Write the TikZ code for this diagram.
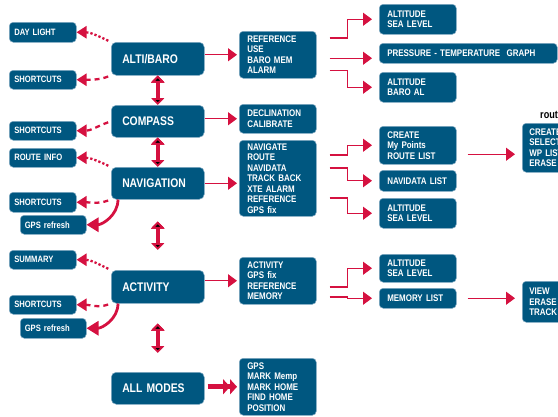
\documentclass[tikz,border=0pt]{standalone}
\usepackage{fontspec}
\setmainfont{Liberation Sans}[FakeStretch=0.83]
\usetikzlibrary{positioning,arrows.meta,calc}

\definecolor{boxblue}{RGB}{0,87,128}
\definecolor{boxline}{RGB}{130,170,195}
\definecolor{linkred}{RGB}{213,17,64}

\tikzset{
  box/.style={draw=boxline, line width=0.5pt, fill=boxblue, rounded corners=4pt,
    text=white, align=left, anchor=north west, inner ysep=1pt},
  side/.style={box, font=\fontsize{9.2}{10}\selectfont\bfseries, inner xsep=5pt, text width=57pt},
  main/.style={box, font=\fontsize{12.5}{14}\selectfont\bfseries, inner xsep=11pt, text width=71pt, rounded corners=5pt},
  sub/.style={box, font=\fontsize{9.6}{10.5}\selectfont\bfseries, inner xsep=8pt, text width=61pt},
  leaf/.style={sub},
  far/.style={sub, inner xsep=7pt, text width=63pt},
  link/.style={draw=linkred, line width=1.1pt, -{Triangle[length=9pt,width=13pt]}, shorten >=7pt},
  hop/.style={draw=linkred, line width=2.3pt, -{Triangle[length=10pt,width=12pt]}, shorten <=3pt},
  fork/.style={draw=linkred, line width=2.8pt, -{Triangle[length=12pt,width=14pt]}},
  dbl/.style={draw=linkred, line width=3.5pt, {Triangle[length=7pt,width=13pt]}-{Triangle[length=7pt,width=13pt]}},
  push/.style={draw=linkred, line width=5pt, -{Triangle[length=7pt,width=15pt]Triangle[length=7pt,width=15pt]}}
}

\begin{document}
\begin{tikzpicture}[x=1pt, y=-1pt]
  \useasboundingbox (0,0) rectangle (558,416);
  \clip (0,0) rectangle (558,416);

  % modes
  \node[main, minimum height=33pt] (alti) at (111,42) {ALTI/BARO};
  \node[main, minimum height=32pt] (comp) at (111,105) {COMPASS};
  \node[main, minimum height=32pt] (nav) at (111,167) {NAVIGATION};
  \node[main, minimum height=33pt] (act) at (111,270) {ACTIVITY};
  \node[main, minimum height=32pt] (all) at (111,372) {ALL MODES};

  % left side
  \node[side, minimum height=20pt] (day) at (9,22) {DAY LIGHT};
  \node[side, minimum height=19pt] (sc1) at (9,70) {SHORTCUTS};
  \node[side, minimum height=19pt] (sc2) at (9,121) {SHORTCUTS};
  \node[side, minimum height=19pt] (rinfo) at (9,148) {ROUTE INFO};
  \node[side, minimum height=20pt] (sc3) at (9,192) {SHORTCUTS};
  \node[side, minimum height=19pt, text width=57pt, inner xsep=4.5pt] (gps1) at (20,215) {GPS refresh};
  \node[side, minimum height=19pt] (summ) at (9,250) {SUMMARY};
  \node[side, minimum height=19pt] (sc4) at (9,295) {SHORTCUTS};
  \node[side, minimum height=20pt, text width=57pt, inner xsep=4.5pt] (gps2) at (20,318) {GPS refresh};

  % menus
  \node[sub, minimum height=47pt] (altim) at (239,31) {REFERENCE\\USE\\BARO MEM\\ALARM};
  \node[sub, minimum height=29pt] (compm) at (239,104) {DECLINATION\\CALIBRATE};
  \node[sub, minimum height=76pt] (navm) at (239,140) {NAVIGATE\\ROUTE\\NAVIDATA\\TRACK BACK\\XTE ALARM\\REFERENCE\\GPS fix};
  \node[sub, minimum height=47pt] (actm) at (239,257) {ACTIVITY\\GPS fix\\REFERENCE\\MEMORY};
  \node[sub, minimum height=57pt] (allm) at (239,358) {GPS\\MARK Memp\\MARK HOME\\FIND HOME\\POSITION};

  % sub menus
  \node[leaf, minimum height=30pt] (asl1) at (379,4) {ALTITUDE\\SEA LEVEL};
  \node[leaf, minimum height=20pt, text width=162pt] (press) at (379,43) {PRESSURE - TEMPERATURE~ GRAPH};
  \node[leaf, minimum height=30pt] (abaro) at (379,72) {ALTITUDE\\BARO AL};
  \node[leaf, minimum height=38pt] (create) at (379,126) {CREATE\\My Points\\ROUTE LIST};
  \node[leaf, minimum height=21pt] (navl) at (379,170) {NAVIDATA LIST};
  \node[leaf, minimum height=30pt] (asl2) at (379,198) {ALTITUDE\\SEA LEVEL};
  \node[leaf, minimum height=28pt] (asl3) at (379,254) {ALTITUDE\\SEA LEVEL};
  \node[leaf, minimum height=20pt] (meml) at (379,288) {MEMORY LIST};

  \node[font=\fontsize{11}{12}\selectfont\bfseries, anchor=base west, inner sep=0pt] (rlabel) at (540,118) {route};
  \node[far, minimum height=49pt] (route) at (522,123) {CREATE\\SELECT\\WP LIST\\ERASE};
  \node[far, minimum height=41pt] (view) at (522,281) {VIEW\\ERASE\\TRACK};

  % up and down
  \coordinate[below=22pt of nav.south] (g1);
  \coordinate[above=20pt of act.north] (g2);
  \coordinate[below=20pt of act.south] (g3);
  \coordinate[above=19pt of all.north] (g4);
  \path[dbl] (alti.south) edge (comp.north);
  \path[dbl] (comp.south) edge (nav.north);
  \path[dbl] (g1) edge (g2);
  \path[dbl] (g3) edge (g4);

  % to the left
  \draw[hop, dotted] (alti.north west) to[out=155, in=0] (day.east);
  \draw[hop, dash pattern=on 5pt off 4pt] (alti.south west) to[out=200, in=0] (sc1.east);
  \draw[hop, dash pattern=on 5pt off 4pt] (comp.west) to[out=200, in=0] (sc2.east);
  \draw[hop, dotted] (nav.north west) to[out=155, in=0] (rinfo.east);
  \draw[hop, dash pattern=on 5pt off 4pt] (nav.south west) to[out=200, in=0] (sc3.east);
  \draw[fork] ([xshift=7pt]nav.south west) to[out=-90, in=0] (gps1.east);
  \draw[hop, dotted] (act.north west) to[out=155, in=0] (summ.east);
  \draw[hop, dash pattern=on 5pt off 4pt] (act.south west) to[out=200, in=0] (sc4.east);
  \draw[fork] ([xshift=7pt]act.south west) to[out=-90, in=0] (gps2.east);

  % to the right
  \draw[link, shorten >=2pt] (alti.east |- altim.west) -- (altim.west);
  \draw[link, shorten >=2pt] (comp.east |- compm.west) -- (compm.west);
  \draw[link, shorten >=2pt] (nav.east) -- (nav.east -| navm.west);
  \draw[link, shorten >=2pt] (act.east |- actm.west) -- (actm.west);
  \draw[push, shorten <=3pt, shorten >=2pt] (all.east |- allm.west) -- (allm.west);

  \draw[link] ([xshift=13pt, yshift=-7pt]altim.north east) -- ++(18,0) |- (asl1.west);
  \draw[link] ([xshift=13pt, yshift=-3.5pt]altim.east) coordinate (s1) -- (s1 -| press.west);
  \draw[link] ([xshift=13pt, yshift=8pt]altim.south east) -- ++(18,0) |- (abaro.west);
  \draw[link] ([xshift=13pt, yshift=-15pt]navm.north east) -- ++(18,0) |- (create.west);
  \draw[link] ([xshift=13pt, yshift=-28pt]navm.north east) -- ++(18,0) |- (navl.west);
  \draw[link] ([xshift=13pt, yshift=-58pt]navm.north east) -- ++(18,0) |- (asl2.west);
  \draw[link] ([xshift=13pt, yshift=-30pt]actm.north east) -- ++(18,0) |- (asl3.west);
  \draw[link] ([xshift=13pt, yshift=-40pt]actm.north east) -- ++(18,0) |- (meml.west);

  \draw[link] ([xshift=11pt, yshift=-9pt]create.east) coordinate (s2) -- (s2 -| route.west);
  \draw[link, shorten <=11pt] (meml.east) -- (meml.east -| view.west);
\end{tikzpicture}
\end{document}
